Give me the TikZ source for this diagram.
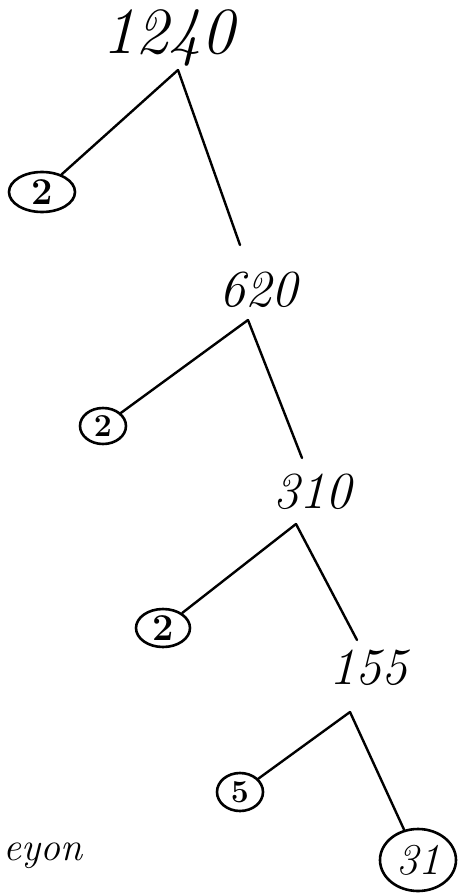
\documentclass[tikz,border=0pt]{standalone}
\usetikzlibrary{shapes.geometric}
\begin{document}
\begin{tikzpicture}[x=1pt,y=-1pt,
  big/.style={font=\fontsize{66}{66}\selectfont\itshape, inner sep=2pt},
  mid/.style={font=\fontsize{52}{52}\selectfont\itshape, inner sep=2pt},
  circ/.style={draw, ellipse, line width=2.6pt, inner sep=0pt, font=\fontsize{38}{38}\selectfont\bfseries},
  edge/.style={line width=2.4pt, line cap=round}]
\useasboundingbox (0,0) rectangle (459,896);
\node[big] (n1240) at (168,38) {1240};
\coordinate (j1) at (178,70);
\node[circ, minimum width=66pt, minimum height=40pt] (c1) at (42,192) {2};
\node[mid] (n620) at (258,290) {620};
\coordinate (j2) at (248,320);
\node[circ, minimum width=46pt, minimum height=36pt, font=\fontsize{32}{32}\selectfont\bfseries] (c2) at (103,426) {2};
\node[mid] (n310) at (312,492) {310};
\coordinate (j3) at (296,524);
\node[circ, minimum width=54pt, minimum height=38pt] (c3) at (163,628) {2};
\node[mid] (n155) at (368,668) {155};
\coordinate (j4) at (350,712);
\node[circ, minimum width=46pt, minimum height=38pt, font=\fontsize{32}{32}\selectfont\bfseries] (c4) at (240,792) {5};
\node[circ, minimum width=76pt, minimum height=62pt, font=\fontsize{44}{44}\selectfont\itshape] (c5) at (418,860) {31};
\node[font=\fontsize{40}{40}\selectfont\itshape, anchor=west] (sig) at (0,856) {eyon};
\draw[edge] (j1) -- (c1);
\draw[edge] (j1) -- (240,245) coordinate (e1);
\draw[edge] (j2) -- (c2);
\draw[edge] (j2) -- (302,458) coordinate (e2);
\draw[edge] (j3) -- (c3);
\draw[edge] (j3) -- (357,640) coordinate (e3);
\draw[edge] (j4) -- (c4);
\draw[edge] (j4) -- (c5);
\end{tikzpicture}
\end{document}
